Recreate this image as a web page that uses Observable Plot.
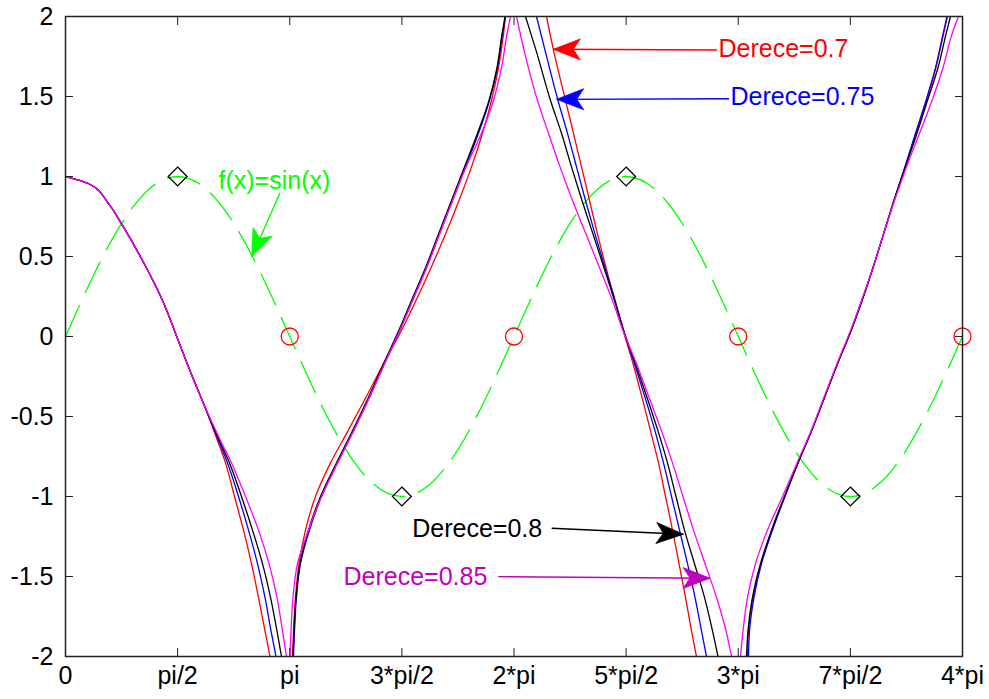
<!DOCTYPE html>
<html><head><meta charset="utf-8">
<script src="https://cdn.jsdelivr.net/npm/d3@7"></script>
<script src="https://cdn.jsdelivr.net/npm/@observablehq/plot@0.6"></script>
<style>html,body{margin:0;padding:0;background:#fff;overflow:hidden;}</style>
</head><body><div id="chart"></div>
<script>
// ---- axes (x in units of pi) ----
const xTicks = [0, 0.5, 1, 1.5, 2, 2.5, 3, 3.5, 4];
const xTickLabels = ["0", "pi/2", "pi", "3*pi/2", "2*pi", "5*pi/2", "3*pi", "7*pi/2", "4*pi"];
const yTicks = [-2, -1.5, -1, -0.5, 0, 0.5, 1, 1.5, 2];
const yTickLabels = ["-2", "-1.5", "-1", "-0.5", "0", "0.5", "1", "1.5", "2"];

// ---- f(x)=sin(x), read every pi/8 ----
const sinX = [0, 0.125, 0.25, 0.375, 0.5, 0.625, 0.75, 0.875, 1, 1.125, 1.25, 1.375, 1.5, 1.625, 1.75, 1.875, 2,
  2.125, 2.25, 2.375, 2.5, 2.625, 2.75, 2.875, 3, 3.125, 3.25, 3.375, 3.5, 3.625, 3.75, 3.875, 4];
const sinY = [0, 0.383, 0.707, 0.924, 1, 0.924, 0.707, 0.383, 0, -0.383, -0.707, -0.924, -1, -0.924, -0.707, -0.383, 0,
  0.383, 0.707, 0.924, 1, 0.924, 0.707, 0.383, 0, -0.383, -0.707, -0.924, -1, -0.924, -0.707, -0.383, 0];
const peakX = [0.5, 1.5, 2.5, 3.5];
const peakY = [1, -1, 1, -1];
const zeroX = [1, 2, 3, 4];
const zeroY = [0, 0, 0, 0];

// ---- fractional curves: shared y readings, one x array per degree (null = break) ----
const curveY = [
  1.0, 0.956, 0.831, 0.694, 0.475, 0.225, -0.013, -0.175, -0.419,
  -0.65, -0.79, -1.0, -1.21, -1.42, -1.63, -1.84, -2,
  null,
  -2, -1.84, -1.63, -1.42, -1.21, -1.0, -0.79, -0.59, -0.38, -0.17, 0.02, 0.225, 0.43, 0.64, 0.85, 1.06, 1.27, 1.475, 1.68, 1.89, 2,
  null,
  2, 1.79, 1.475, 1.27, 1.06, 0.85, 0.64, 0.43, 0.225, 0.02, -0.17, -0.38, -0.59, -0.79, -1.0, -1.21, -1.42, -1.63, -1.84, -2,
  null,
  -2, -1.84, -1.63, -1.42, -1.21, -1.0, -0.79, -0.59, -0.38, -0.17, 0.02, 0.225, 0.43, 0.64, 0.85, 1.06, 1.27, 1.475, 1.68, 1.89, 2
];
const x07 = [
  0, 0.1026, 0.1918, 0.2542, 0.3434, 0.4326, 0.4994, 0.5440, 0.6154,
  0.6778, 0.7135, 0.7536, 0.7938, 0.8294, 0.8606, 0.8896, 0.9119,
  null,
  1.0123, 1.0167, 1.0256, 1.0412, 1.0702, 1.1148, 1.1817, 1.2598, 1.3400, 1.4181, 1.4916, 1.5630, 1.6299, 1.6945, 1.7547, 1.8105, 1.8595, 1.8997, 1.9309, 1.9532, 1.9621,
  null,
  2.1449, 2.1761, 2.2297, 2.2653, 2.3010, 2.3367, 2.3724, 2.4103, 2.4504, 2.4905, 2.5307, 2.5708, 2.6087, 2.6444, 2.6756, 2.7068, 2.7358, 2.7648, 2.7915, 2.8138,
  null,
  3.0413, 3.0457, 3.0658, 3.1014, 3.1505, 3.2062, 3.2664, 3.3266, 3.3846, 3.4426, 3.4983, 3.5518, 3.6009, 3.6477, 3.6945, 3.7436, 3.7926, 3.8395, 3.8818, 3.9153, 3.9331
];
const x075 = [
  0, 0.1026, 0.1918, 0.2542, 0.3434, 0.4326, 0.4994, 0.5440, 0.6154,
  0.6823, 0.7224, 0.7715, 0.8161, 0.8562, 0.8896, 0.9164, 0.9387,
  null,
  1.0167, 1.0212, 1.0301, 1.0479, 1.0881, 1.1416, 1.2129, 1.2843, 1.3556, 1.4225, 1.4849, 1.5474, 1.6098, 1.6678, 1.7258, 1.7837, 1.8417, 1.8907, 1.9264, 1.9487, 1.9621,
  null,
  2.1003, 2.1382, 2.1962, 2.2386, 2.2787, 2.3188, 2.3612, 2.4058, 2.4504, 2.4928, 2.5373, 2.5842, 2.6288, 2.6667, 2.7024, 2.7380, 2.7737, 2.8071, 2.8361, 2.8584,
  null,
  3.0457, 3.0502, 3.0703, 3.1037, 3.1527, 3.2085, 3.2664, 3.3266, 3.3846, 3.4426, 3.4983, 3.5518, 3.6009, 3.6477, 3.6945, 3.7436, 3.7904, 3.8372, 3.8796, 3.9131, 3.9309
];
const x08 = [
  0, 0.1026, 0.1918, 0.2542, 0.3434, 0.4326, 0.4994, 0.5440, 0.6154,
  0.6867, 0.7313, 0.7848, 0.8339, 0.8785, 0.9142, 0.9431, 0.9632,
  null,
  1.0145, 1.0190, 1.0279, 1.0457, 1.0836, 1.1371, 1.2085, 1.2798, 1.3512, 1.4181, 1.4805, 1.5429, 1.6054, 1.6633, 1.7213, 1.7793, 1.8372, 1.8885, 1.9242, 1.9465, 1.9599,
  null,
  2.0513, 2.0981, 2.1628, 2.2118, 2.2564, 2.3032, 2.3523, 2.4013, 2.4482, 2.4928, 2.5418, 2.5931, 2.6421, 2.6845, 2.7224, 2.7603, 2.8049, 2.8495, 2.8852, 2.9097,
  null,
  3.0368, 3.0435, 3.0635, 3.0992, 3.1483, 3.2062, 3.2664, 3.3266, 3.3846, 3.4426, 3.4983, 3.5518, 3.6009, 3.6477, 3.6945, 3.7458, 3.7971, 3.8439, 3.8908, 3.9264, 3.9465
];
const x085 = [
  0, 0.1026, 0.1918, 0.2542, 0.3434, 0.4326, 0.4994, 0.5440, 0.6154,
  0.6912, 0.7402, 0.8027, 0.8606, 0.9075, 0.9431, 0.9677, 0.9855,
  null,
  1.0011, 1.0056, 1.0145, 1.0346, 1.0836, 1.1416, 1.2129, 1.2843, 1.3556, 1.4225, 1.4849, 1.5474, 1.6098, 1.6678, 1.7258, 1.7860, 1.8551, 1.9086, 1.9443, 1.9688, 1.9844,
  null,
  2.0112, 2.0446, 2.1048, 2.1538, 2.2051, 2.2609, 2.3211, 2.3813, 2.4392, 2.4905, 2.5463, 2.6020, 2.6578, 2.7068, 2.7536, 2.8004, 2.8518, 2.9030, 2.9454, 2.9699,
  null,
  3.0100, 3.0212, 3.0413, 3.0769, 3.1304, 3.1973, 3.2620, 3.3244, 3.3824, 3.4404, 3.4961, 3.5496, 3.6009, 3.6477, 3.6968, 3.7503, 3.8083, 3.8640, 3.9131, 3.9532, 3.9822
];

// ---- annotations (data units) ----
const annoText = ["f(x)=sin(x)", "Derece=0.7", "Derece=0.75", "Derece=0.8", "Derece=0.85"];
const annoX = [0.6823, 2.912, 2.9654, 1.5461, 1.2397];
const annoY = [0.975, 1.80, 1.494, -1.20, -1.506];
const arrowFromX = [0.9588, 2.9075, 2.961, 2.1703, 1.9322];
const arrowFromY = [0.894, 1.7875, 1.483, -1.202, -1.504];
const arrowToX = [0.8326, 2.1775, 2.1926, 2.7572, 2.8763];
const arrowToY = [0.496, 1.792, 1.479, -1.239, -1.514];
const annoColors = ["#00ff00", "#ff0000", "#0000ff", "#000000", "#bf00bf"];

// ---- tables ----
const sinData = sinX.map((x, i) => ({x, y: sinY[i]}));
const peaks = peakX.map((x, i) => ({x, y: peakY[i]}));
const zeros = zeroX.map((x, i) => ({x, y: zeroY[i]}));
const series = (xs) => curveY.map((y, i) => ({x: xs[i], y}));
const annos = annoText.map((t, i) => ({t, x: annoX[i], y: annoY[i], c: annoColors[i]}));

const FONT = "'Liberation Sans', Arial, Helvetica, sans-serif";

function arrows(index, scales) {
  const g = d3.create("svg:g");
  for (let i = 0; i < arrowFromX.length; i++) {
    const x1 = scales.x(arrowFromX[i]), y1 = scales.y(arrowFromY[i]);
    const x2 = scales.x(arrowToX[i]), y2 = scales.y(arrowToY[i]);
    const a = Math.atan2(y2 - y1, x2 - x1) * 180 / Math.PI;
    g.append("line").attr("x1", x1).attr("y1", y1).attr("x2", x2).attr("y2", y2)
      .attr("stroke", annoColors[i]).attr("stroke-width", 1.4);
    g.append("path").attr("d", "M0,0L-27,-10.5L-20,0L-27,10.5Z")
      .attr("transform", `translate(${x2},${y2}) rotate(${a})`)
      .attr("fill", annoColors[i]).attr("stroke", annoColors[i]).attr("stroke-width", 0.8);
  }
  return g.node();
}

const lineOpts = {x: "x", y: "y", curve: "monotone-y", strokeWidth: 1.3, clip: true};

const chart = Plot.plot({
  width: 989,
  height: 699,
  marginLeft: 65,
  marginRight: 27,
  marginTop: 16,
  marginBottom: 43,
  style: {fontFamily: FONT, fontSize: "25px", color: "#000", background: "#fff"},
  x: {domain: [0, 4]},
  y: {domain: [-2, 2]},
  marks: [
    Plot.line(sinData, {x: "x", y: "y", stroke: "#00ff00", strokeWidth: 1.3, strokeDasharray: "34,14", curve: "natural"}),
    Plot.line(series(x07), {...lineOpts, stroke: "#ff0000"}),
    Plot.line(series(x075), {...lineOpts, stroke: "#0000ff"}),
    Plot.line(series(x08), {...lineOpts, stroke: "#000000"}),
    Plot.line(series(x085), {...lineOpts, stroke: "#ff00ff"}),
    Plot.dot(peaks, {x: "x", y: "y", symbol: "diamond2", r: 8.5, stroke: "#000", strokeWidth: 1.3, fill: "none"}),
    Plot.dot(zeros, {x: "x", y: "y", symbol: "circle", r: 8.5, stroke: "#ff0000", strokeWidth: 1.3, fill: "none"}),
    Plot.text(annos, {x: "x", y: "y", text: "t", fill: "c", textAnchor: "start", fontSize: 25}),
    arrows,
    Plot.frame({stroke: "#222", strokeWidth: 1.5}),
    Plot.axisX(xTicks, {anchor: "bottom", tickSize: -8, tickPadding: 18, label: null, fontSize: 25,
      tickFormat: d => xTickLabels[xTicks.indexOf(d)], stroke: "#222"}),
    Plot.axisX(xTicks, {anchor: "top", tickSize: -8, label: null, tickFormat: () => "", stroke: "#222"}),
    Plot.axisY(yTicks, {anchor: "left", tickSize: -8, tickPadding: 20, label: null, fontSize: 25,
      tickFormat: d => yTickLabels[yTicks.indexOf(d)], stroke: "#222"}),
    Plot.axisY(yTicks, {anchor: "right", tickSize: -8, label: null, tickFormat: () => "", stroke: "#222"})
  ]
});
document.getElementById("chart").appendChild(chart);
</script>
</body></html>
